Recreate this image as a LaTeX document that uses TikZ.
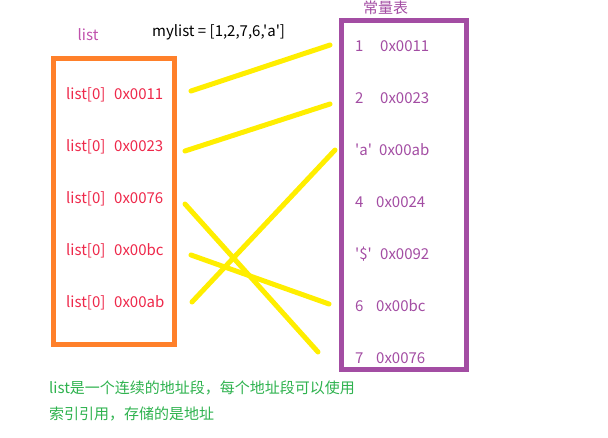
\documentclass[tikz,border=0pt]{standalone}
\usepackage{fontspec}
\setmainfont{Noto Sans CJK SC}[Ligatures=TeXOff]
\definecolor{listred}{RGB}{238,40,74}
\definecolor{boxorange}{RGB}{255,128,42}
\definecolor{tablepurple}{RGB}{163,77,163}
\definecolor{labelpink}{RGB}{192,82,172}
\definecolor{notegreen}{RGB}{46,178,78}
\definecolor{linkyellow}{RGB}{255,238,0}
\begin{document}
\begin{tikzpicture}[x=1pt,y=-1pt,
    every node/.style={inner sep=0pt,font=\fontsize{15}{18}\selectfont},
    entry/.style={anchor=base west,text=listred},
    const/.style={anchor=base west,text=tablepurple},
    link/.style={line width=5pt,draw=linkyellow,line cap=round}]
    \useasboundingbox (0,0) rectangle (608,437);

    % Drawing box list
    \draw [line width=5pt,boxorange] (53.5,58.5) rectangle (174,344);
    \node [anchor=base west,text=labelpink] (listlabel) at (77.5,40) {list};
    \node [anchor=base west] (mylist) at (152,36) {mylist = [1,2,7,6,'a']};

    % Drawing box const table
    \draw [line width=5pt,tablepurple] (341.5,20.5) rectangle (466,369);
    \node [anchor=base west,text=tablepurple] (tabletitle) at (363,13.3) {常量表};

    % Marking entries of list
    \node [entry] (l1) at (66,99.3) {\makebox[48pt][l]{list[0]}0x0011};
    \node [entry] (l2) at (66,151.5) {\makebox[48pt][l]{list[0]}0x0023};
    \node [entry] (l3) at (66,203.3) {\makebox[48pt][l]{list[0]}0x0076};
    \node [entry] (l4) at (66,255) {\makebox[48pt][l]{list[0]}0x00bc};
    \node [entry] (l5) at (66,307.3) {\makebox[48pt][l]{list[0]}0x00ab};

    % Marking entries of const table
    \node [const] (r1) at (355,51) {\makebox[25pt][l]{1}0x0011};
    \node [const] (r2) at (355,103.3) {\makebox[25pt][l]{2}0x0023};
    \node [const] (r3) at (355,155.5) {\makebox[24pt][l]{'a'}0x00ab};
    \node [const] (r4) at (355,207.5) {\makebox[21pt][l]{4}0x0024};
    \node [const] (r5) at (355,259.3) {\makebox[25pt][l]{'\$'}0x0092};
    \node [const] (r6) at (355,311.7) {\makebox[21pt][l]{6}0x00bc};
    \node [const] (r7) at (355,363.3) {\makebox[21pt][l]{7}0x0076};

    % Drawing links
    \coordinate (a1) at (191,91);   \coordinate (b1) at (330,45);
    \coordinate (a2) at (185,151);  \coordinate (b2) at (330,104);
    \coordinate (a3) at (185,204);  \coordinate (b3) at (318,352);
    \coordinate (a4) at (191,255);  \coordinate (b4) at (329,304);
    \coordinate (a5) at (192,302);  \coordinate (b5) at (335,150);
    \draw [link] (a1) -- (b1);
    \draw [link] (a2) -- (b2);
    \draw [link] (a3) -- (b3);
    \draw [link] (a4) -- (b4);
    \draw [link] (a5) -- (b5);

    % Note
    \node [anchor=base west,text=notegreen] (note1) at (49,393.5) {list是一个连续的地址段，每个地址段可以使用};
    \node [anchor=base west,text=notegreen] (note2) at (49,419) {索引引用，存储的是地址};
\end{tikzpicture}
\end{document}
